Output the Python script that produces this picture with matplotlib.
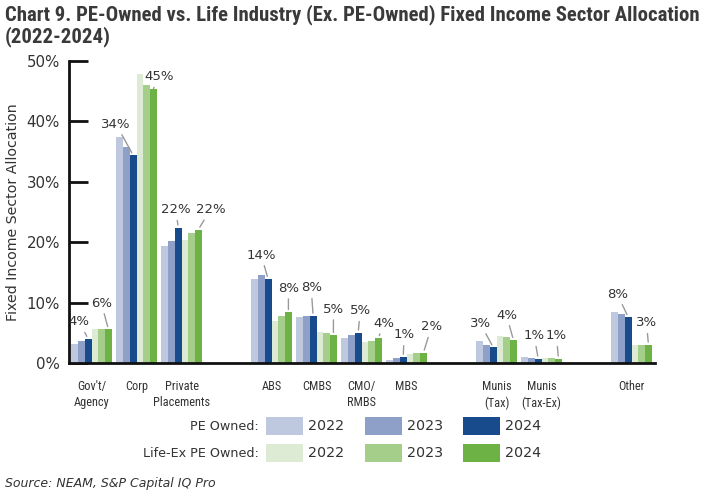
import matplotlib
matplotlib.use("Agg")
import matplotlib.pyplot as plt
from matplotlib import font_manager as fm
from matplotlib.patches import Rectangle

# ---------------- data ----------------
categories = ["Gov't/\nAgency", "Corp", "Private\nPlacements", "ABS", "CMBS",
              "CMO/\nRMBS", "MBS", "Munis\n(Tax)", "Munis\n(Tax-Ex)", "Other"]
pe_2022 = [3.1, 37.5, 19.4, 13.9, 7.6, 4.1, 0.5, 3.6, 1.0, 8.4]
pe_2023 = [3.7, 35.7, 20.2, 14.5, 7.8, 4.6, 0.8, 3.0, 0.8, 8.1]
pe_2024 = [4.0, 34.4, 22.4, 13.9, 7.8, 5.0, 1.0, 2.6, 0.7, 7.6]
life_2022 = [5.6, 47.8, 20.3, 6.9, 5.2, 3.4, 1.5, 4.5, 0.9, 3.0]
life_2023 = [5.6, 46.1, 21.5, 7.8, 5.0, 3.6, 1.7, 4.3, 0.9, 3.0]
life_2024 = [5.6, 45.4, 22.1, 8.4, 4.6, 4.1, 1.7, 3.8, 0.7, 3.0]
years = ["2022", "2023", "2024"]
yticks = [0, 10, 20, 30, 40, 50]
title_line1 = "Chart 9. PE-Owned vs. Life Industry (Ex. PE-Owned) Fixed Income Sector Allocation"
title_line2 = "(2022-2024)"
source = "Source: NEAM, S&P Capital IQ Pro"

# ---------------- layout / style ----------------
group_slots = [0, 1, 2, 4, 5, 6, 7, 9, 10, 12]
pe_colors = ["#BEC8DE", "#8FA0C8", "#174B8C"]
life_colors = ["#DDEAD4", "#A5CE8A", "#6CB244"]
pe_label_offsets = [(-9, 17), (-17, 31), (-2, 18), (-7, 24), (-2, 28),
                    (2, 22), (1, 22), (-13, 24), (-4, 23), (-11, 23)]
life_label_offsets = [(-7, 26), (6, 12), (12, 20), (0, 24), (0, 26),
                      (5, 15), (8, 26), (-7, 25), (-2, 23), (-2, 22)]
TXT = "#333333"


def pick_narrow():
    entries = fm.fontManager.ttflist
    names = {f.name for f in entries}
    for c in ["Liberation Sans Narrow", "Roboto Condensed", "Noto Sans Condensed",
              "Open Sans Condensed", "DejaVu Sans Condensed", "Arial Narrow"]:
        if c in names:
            return dict(family=[c, "DejaVu Sans"])
    for f in entries:
        if "Narrow" in f.name or "Condensed" in f.name:
            return dict(family=[f.name, "DejaVu Sans"])
    for fam in ["DejaVu Sans", "Noto Sans", "Roboto", "Open Sans"]:
        for f in entries:
            if f.name == fam and "condensed" in str(f.stretch):
                return dict(family=[fam], stretch="condensed")
    return dict(family=["Roboto", "DejaVu Sans"])


NARROW = pick_narrow()

W, H = 706, 498
fig = plt.figure(figsize=(W / 100, H / 100), dpi=100)
plt.rcParams["font.family"] = ["DejaVu Sans"]


def fx(x):
    return x / W


def fy(y):
    return 1 - y / H


ax = fig.add_axes([fx(69), fy(363), (655 - 69) / W, (363 - 61) / H])

bw = 0.15
series = [pe_2022, pe_2023, pe_2024, life_2022, life_2023, life_2024]
colors = pe_colors + life_colors
for i, (vals, c) in enumerate(zip(series, colors)):
    xs = [g + (i - 2.5) * bw for g in group_slots]
    ax.bar(xs, vals, width=bw, color=c, edgecolor="none", zorder=2)

# value labels with leader lines
for idx, (vals, offs) in enumerate([(pe_2024, pe_label_offsets), (life_2024, life_label_offsets)]):
    bar_i = 2 if idx == 0 else 5
    for g, v, (dx, dy) in zip(group_slots, vals, offs):
        x = g + (bar_i - 2.5) * bw
        ax.annotate(f"{round(v):.0f}%", xy=(x, v), xytext=(dx, dy),
                    textcoords="offset pixels", ha="center", va="center",
                    fontsize=9.5, color=TXT, zorder=5,
                    arrowprops=dict(arrowstyle="-", color="#999999", lw=1,
                                    shrinkA=1, shrinkB=2))

ax.set_xlim(-0.5, 12.52)
ax.set_ylim(0, 50)
ax.set_yticks(yticks)
ax.set_yticklabels([f"{t}%" for t in yticks], fontsize=10.8, color=TXT)
ax.tick_params(axis="y", direction="in", length=14, width=2, color="#111111", pad=6.5)
ax.set_xticks(group_slots)
ax.set_xticklabels(categories, fontsize=8.8, color=TXT, linespacing=1.35, **NARROW)
ax.tick_params(axis="x", length=0, pad=12)
for s in ["top", "right"]:
    ax.spines[s].set_visible(False)
for s in ["left", "bottom"]:
    ax.spines[s].set_linewidth(2)
    ax.spines[s].set_color("#111111")

# y label
fig.text(fx(13), fy(212), "Fixed Income Sector Allocation", rotation=90,
         ha="center", va="center", fontsize=10.2, color=TXT)

# title
t1 = fig.text(fx(5), fy(15), title_line1, ha="left", va="center",
              fontweight="bold", fontsize=13, color="#3a3a3a", **NARROW)
t2 = fig.text(fx(5), fy(37), title_line2, ha="left", va="center",
              fontweight="bold", fontsize=13, color="#3a3a3a", **NARROW)
r = fig.canvas.get_renderer()
bb = t1.get_window_extent(r)
fs = 13 * 692 / bb.width
t1.set_fontsize(fs)
t2.set_fontsize(fs)

# legend
rows = [("PE Owned:", pe_colors, 426), ("Life-Ex PE Owned:", life_colors, 453)]
patch_x = [266, 365, 463]
for label, cols, yc in rows:
    fig.text(fx(259), fy(yc), label, ha="right", va="center", fontsize=9.2, color=TXT)
    for px, c, yr in zip(patch_x, cols, years):
        fig.add_artist(Rectangle((fx(px), fy(yc + 9)), 37 / W, 18 / H,
                                 transform=fig.transFigure, facecolor=c, edgecolor="none"))
        fig.text(fx(px + 42), fy(yc), yr, ha="left", va="center", fontsize=10.3, color=TXT)

# source
fig.text(fx(5), fy(483), source, ha="left", va="center", fontsize=9,
         style="italic", color=TXT)

fig.savefig("out.png", dpi=100)
